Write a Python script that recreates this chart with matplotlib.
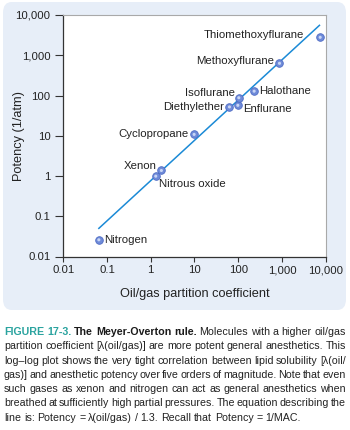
import numpy as np
import matplotlib
matplotlib.use("Agg")
import matplotlib.pyplot as plt
from matplotlib.patches import FancyBboxPatch

plt.rcParams['font.family'] = ['Liberation Sans', 'DejaVu Sans']

# anesthetics: oil/gas partition coefficient vs potency (1/MAC, 1/atm)
agents = ['Nitrogen', 'Nitrous oxide', 'Xenon', 'Cyclopropane', 'Diethylether',
          'Enflurane', 'Isoflurane', 'Halothane', 'Methoxyflurane',
          'Thiomethoxyflurane']
oil_gas = [0.065, 1.3, 1.75, 9.8, 63, 98, 103, 231, 877, 7480]
potency = [0.026, 0.99, 1.37, 10.8, 52, 57, 88, 128, 630, 2790]

# label offsets in points and horizontal alignment
label_off = [(4, 0), (2.6, -5.8), (-3.3, 3.1), (-3.6, 0), (-3.8, 0),
             (3.6, -2.9), (-2.7, 3.2), (3.8, 0), (-3.8, 1.5), (-11.5, 1.5)]
label_ha = ['left', 'left', 'right', 'right', 'right',
            'left', 'right', 'left', 'right', 'right']

# fitted line: Potency = lambda / 1.3
fit_x = [0.065, 7200]
fit_div = 1.3

tick_vals = [0.01, 0.1, 1, 10, 100, 1000, 10000]
tick_text = ['0.01', '0.1', '1', '10', '100', '1,000', '10,000']

caption = [
    "FIGURE 17-3. The Meyer-Overton rule. Molecules with a higher oil/gas",
    "partition coefficient [λ(oil/gas)] are more potent general anesthetics. This",
    "log–log plot shows the very tight correlation between lipid solubility [λ(oil/",
    "gas)] and anesthetic potency over five orders of magnitude. Note that even",
    "such gases as xenon and nitrogen can act as general anesthetics when",
    "breathed at sufficiently high partial pressures. The equation describing the",
    "line is: Potency = λ(oil/gas) / 1.3. Recall that Potency = 1/MAC.",
]

W, H = 350, 430
fig = plt.figure(figsize=(W / 100, H / 100), dpi=100)
fig.patch.set_facecolor('white')

# light blue panel behind the plot
panel = FancyBboxPatch((3 / W, 1 - 310 / H), 343 / W, 308 / H,
                       boxstyle="round,pad=0,rounding_size=0.025",
                       transform=fig.transFigure, facecolor='#e7eef8',
                       edgecolor='none', zorder=-5)
fig.patches.append(panel)

ax = fig.add_axes([63.3 / W, 1 - 256.5 / H, 262.4 / W, 241.5 / H])
ax.set_facecolor('white')
ax.set_xscale('log')
ax.set_yscale('log')
ax.set_xlim(0.01, 10000)
ax.set_ylim(0.01, 10000)

fx = np.array(fit_x)
ax.plot(fx, fx / fit_div, color='#1b8ad6', lw=1.1, zorder=2)

ax.scatter(oil_gas, potency, s=30, facecolor='#6f8bd9', edgecolor='#4f6cc4',
           linewidth=0.6, zorder=3)
ax.scatter(oil_gas, potency, s=5, facecolor='#c9d6f5', edgecolor='none',
           zorder=4)

for name, x, y, off, ha in zip(agents, oil_gas, potency, label_off, label_ha):
    ax.annotate(name, (x, y), xytext=off, textcoords='offset points',
                ha=ha, va='center', fontsize=8.2, color='#222222', zorder=5)

ax.set_xticks(tick_vals, tick_text)
ax.set_yticks(tick_vals, tick_text)
ax.minorticks_off()
ax.tick_params(axis='both', labelsize=8.2, colors='#333333', labelcolor='#222222',
               width=0.8, direction='out')
ax.tick_params(axis='y', length=5.8, pad=3.5)
ax.tick_params(axis='x', length=3.8, pad=2.5)
for side in ['left', 'bottom']:
    ax.spines[side].set_color('#333333')
    ax.spines[side].set_linewidth(0.9)
for side in ['top', 'right']:
    ax.spines[side].set_color('#a9a9a9')
    ax.spines[side].set_linewidth(0.8)

ax.set_xlabel('Oil/gas partition coefficient', fontsize=9.2, color='#222222')
ax.set_ylabel('Potency (1/atm)', fontsize=9.2, color='#222222')
ax.xaxis.set_label_coords(0.5, (256.5 - 293.5) / 241.5)
ax.xaxis.label.set_va('center')
ax.yaxis.set_label_coords((19 - 63.3) / 262.4, 0.5)
ax.yaxis.label.set_va('center')

# justified caption, word by word
cap_font = ['Liberation Sans Narrow', 'Liberation Sans', 'DejaVu Sans']
cap_size = 7.7
x_left, x_right = 4.0, 346.0
y0, dy = 332.0, 14.3
last_gap = 2.8
renderer = fig.canvas.get_renderer()


def word_style(li, wi):
    if li == 0 and wi < 2:
        return dict(color='#2aa39f', weight='bold')
    if li == 0 and wi < 5:
        return dict(color='#1a1a1a', weight='bold')
    return dict(color='#222222', weight='normal')


for li, line in enumerate(caption):
    words = line.split(' ')
    y = 1 - (y0 + li * dy) / H
    texts = []
    for wi, w in enumerate(words):
        t = fig.text(0, y, w, fontsize=cap_size, family=cap_font, va='center',
                     ha='left', **word_style(li, wi))
        texts.append(t)
    widths = [t.get_window_extent(renderer).width for t in texts]
    if li < len(caption) - 1:
        gap = (x_right - x_left - sum(widths)) / (len(words) - 1)
    else:
        gap = last_gap
    xp = x_left
    for t, wdt in zip(texts, widths):
        t.set_x(xp / W)
        xp += wdt + gap

fig.savefig('out.png', dpi=100)
